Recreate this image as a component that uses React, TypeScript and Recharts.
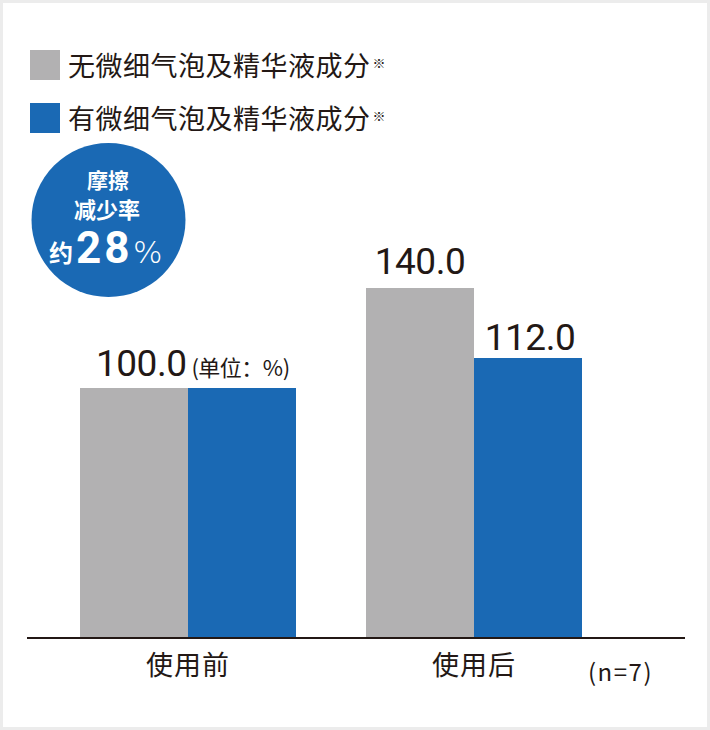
import React from "react";
import { Bar, BarChart, LabelList, Legend, XAxis, YAxis } from "recharts";

const CATEGORIES = ["使用前", "使用后"];
const WITHOUT_VALUES = [100.0, 140.0];
const WITH_VALUES = [100.0, 112.0];
const SERIES_NAMES = ["无微细气泡及精华液成分", "有微细气泡及精华液成分"];
const Y_DOMAIN = [0, 200];
const UNIT_NOTE = "(单位：%)";
const SAMPLE_NOTE = "(n=7)";
const BADGE_LINES = ["摩擦", "减少率"];
const BADGE_PREFIX = "约";
const BADGE_VALUE = "28";
const BADGE_SUFFIX = "%";

const GRAY = "#b2b1b2";
const BLUE = "#1a69b4";
const INK = "#231815";
const CJK = "'Noto Sans CJK SC', 'Noto Sans', sans-serif";
const NUM = "Roboto, 'Noto Sans CJK SC', sans-serif";

const data = CATEGORIES.map((name, i) => ({
  name,
  without: WITHOUT_VALUES[i],
  with: WITH_VALUES[i],
}));

function CategoryTick({ x, y, payload }: any) {
  return (
    <text x={x} y={y + 37} textAnchor="middle" fill={INK} fontFamily={CJK} fontSize={27} letterSpacing={1}>
      {payload.value}
    </text>
  );
}

// first label carries the unit note, shared by both bars when they're equal
function GrayLabel(props: any) {
  const { x, y, width, value, index } = props;
  const txt = Number(value).toFixed(1);
  if (index === 0) {
    return (
      <text x={x + 16} y={y - 12} fill={INK} fontFamily={NUM} fontSize={37} letterSpacing={-0.5}>
        {txt}
        <tspan dx={5} fontFamily={CJK} fontSize={22}>{UNIT_NOTE}</tspan>
      </text>
    );
  }
  return (
    <text x={x + width / 2} y={y - 14} textAnchor="middle" fill={INK} fontFamily={NUM} fontSize={37} letterSpacing={-0.5}>
      {txt}
    </text>
  );
}

function BlueLabel(props: any) {
  const { x, y, width, value, index } = props;
  if (data[index] && data[index].with === data[index].without) return null;
  return (
    <text x={x + width / 2 + 2} y={y - 8} textAnchor="middle" fill={INK} fontFamily={NUM} fontSize={37} letterSpacing={-0.5}>
      {Number(value).toFixed(1)}
    </text>
  );
}

function LegendBox({ payload }: any) {
  return (
    <div style={{ display: "flex", flexDirection: "column", gap: 23 }}>
      {(payload || []).map((p: any) => (
        <div key={p.value} style={{ display: "flex", alignItems: "center", height: 30 }}>
          <span style={{ width: 30, height: 30, background: p.color, marginRight: 8, flex: "none" }} />
          <span style={{ fontFamily: CJK, fontSize: 27, color: INK, letterSpacing: 0.5, lineHeight: "30px", whiteSpace: "nowrap" }}>
            {p.value}
          </span>
          <span style={{ fontFamily: CJK, fontSize: 13, color: INK, alignSelf: "flex-start", marginTop: 3, marginLeft: 2 }}>※</span>
        </div>
      ))}
    </div>
  );
}

function Badge() {
  return (
    <svg width={710} height={730} style={{ position: "absolute", left: 0, top: 0, pointerEvents: "none" }}>
      <circle cx={108.5} cy={220} r={77} fill={BLUE} />
      <text x={108} y={188} textAnchor="middle" fill="#fff" fontFamily={CJK} fontWeight={700} fontSize={21}>
        {BADGE_LINES[0]}
      </text>
      <text x={107} y={218} textAnchor="middle" fill="#fff" fontFamily={CJK} fontWeight={700} fontSize={22}>
        {BADGE_LINES[1]}
      </text>
      <text x={49} y={262} fill="#fff" fontFamily={CJK} fontWeight={700} fontSize={24}>
        {BADGE_PREFIX}
      </text>
      <text x={76} y={263} fill="#fff" fontFamily="Roboto, sans-serif" fontWeight={700} fontSize={44} letterSpacing={3}>
        {BADGE_VALUE}
      </text>
      <text x={133} y={263} fill="#fff" fontFamily="'DejaVu Sans', sans-serif" fontWeight={200} fontSize={31}>
        {BADGE_SUFFIX}
      </text>
      <text x={588} y={681} fill={INK} fontFamily={CJK} fontSize={24} letterSpacing={1.5}>
        {SAMPLE_NOTE}
      </text>
    </svg>
  );
}

export default function App() {
  return (
    <div style={{ position: "absolute", left: 0, top: 0, width: 710, height: 730, background: "#ececec" }}>
      <div style={{ position: "absolute", left: 3, top: 3, width: 704, height: 724, background: "#fff" }} />
      <div style={{ position: "absolute", left: 0, top: 0 }}>
        <BarChart
          width={710}
          height={730}
          data={data}
          margin={{ top: 138, right: 25, left: 27, bottom: 32 }}
          barCategoryGap={35}
          barGap={0}
        >
          <XAxis
            dataKey="name"
            height={60}
            padding={{ left: 18, right: 68 }}
            axisLine={{ stroke: INK, strokeWidth: 2 }}
            tickLine={false}
            tickSize={0}
            tickMargin={0}
            tick={<CategoryTick />}
            interval={0}
          />
          <YAxis hide domain={Y_DOMAIN} />
          <Legend
            layout="vertical"
            align="center"
            verticalAlign="middle"
            content={<LegendBox />}
            wrapperStyle={{ left: 30, top: 50, width: "auto", height: "auto" }}
          />
          <Bar dataKey="without" name={SERIES_NAMES[0]} fill={GRAY} isAnimationActive={false}>
            <LabelList dataKey="without" content={<GrayLabel />} />
          </Bar>
          <Bar dataKey="with" name={SERIES_NAMES[1]} fill={BLUE} isAnimationActive={false}>
            <LabelList dataKey="with" content={<BlueLabel />} />
          </Bar>
        </BarChart>
      </div>
      <Badge />
    </div>
  );
}
